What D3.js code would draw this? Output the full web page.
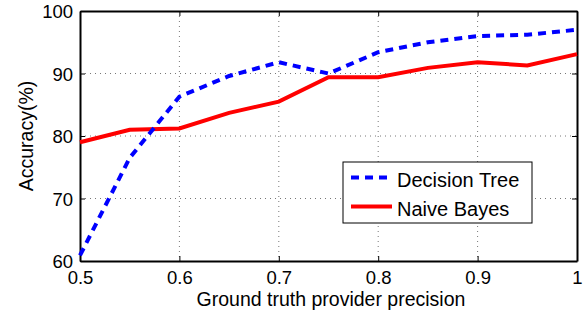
<!DOCTYPE html>
<html>
<head>
<meta charset="utf-8">
<script src="https://cdn.jsdelivr.net/npm/d3@7"></script>
<style>
  body { margin: 0; background: #fff; }
  svg { font-family: "Liberation Sans", Arial, sans-serif; }
</style>
</head>
<body>
<div id="app"></div>
<script>
// data
const precision = [0.5, 0.55, 0.6, 0.65, 0.7, 0.75, 0.8, 0.85, 0.9, 0.95, 1.0];
const decisionTree = [60.9, 76.5, 86.3, 89.6, 91.8, 90.0, 93.4, 95.0, 96.0, 96.2, 97.0];
const naiveBayes = [79.0, 81.0, 81.2, 83.7, 85.5, 89.4, 89.4, 90.9, 91.8, 91.3, 93.1];
const xTicks = [0.5, 0.6, 0.7, 0.8, 0.9, 1];
const yTicks = [60, 70, 80, 90, 100];

const width = 584,
    height = 314;
const margin = {top: 11, right: 7, bottom: 53, left: 80};
const plotW = width - margin.left - margin.right,
    plotH = height - margin.top - margin.bottom;

const x = d3.scaleLinear().domain([0.5, 1]).range([0, plotW]);
const y = d3.scaleLinear().domain([60, 100]).range([plotH, 0]);

const svg = d3.select("#app").append("svg")
    .attr("width", width)
    .attr("height", height);

const g = svg.append("g")
    .attr("transform", "translate(" + margin.left + "," + margin.top + ")");

// dotted grid
g.append("g").selectAll("line")
    .data(xTicks.slice(1, -1))
    .join("line")
    .attr("x1", d => x(d)).attr("x2", d => x(d))
    .attr("y1", 0).attr("y2", plotH)
    .attr("stroke", "#777").attr("stroke-width", 1)
    .attr("stroke-dasharray", "1,4");

g.append("g").selectAll("line")
    .data(yTicks.slice(1, -1))
    .join("line")
    .attr("x1", 0).attr("x2", plotW)
    .attr("y1", d => y(d)).attr("y2", d => y(d))
    .attr("stroke", "#777").attr("stroke-width", 1)
    .attr("stroke-dasharray", "1,4");

// axes, ticks pointing inward (matlab style)
const fmtX = d => d === 1 ? "1" : d3.format(".1f")(d);

const xAxis = g.append("g")
    .attr("transform", "translate(0," + plotH + ")")
    .call(d3.axisBottom(x).tickValues(xTicks).tickFormat(fmtX).tickSizeInner(-5).tickSizeOuter(0).tickPadding(10));
const xTop = g.append("g")
    .call(d3.axisTop(x).tickValues(xTicks).tickFormat("").tickSizeInner(-5).tickSizeOuter(0));
const yAxis = g.append("g")
    .call(d3.axisLeft(y).tickValues(yTicks).tickSizeInner(-5).tickSizeOuter(0).tickPadding(7));
const yRight = g.append("g")
    .attr("transform", "translate(" + plotW + ",0)")
    .call(d3.axisRight(y).tickValues(yTicks).tickFormat("").tickSizeInner(-5).tickSizeOuter(0));

[xAxis, xTop, yAxis, yRight].forEach(a => {
    a.select(".domain").attr("stroke", "#000").attr("stroke-width", 2);
    a.selectAll(".tick line").attr("stroke", "#000").attr("stroke-width", 1);
    a.selectAll("text").attr("fill", "#000").style("font-size", "18.5px")
        .style("font-family", "Liberation Sans, Arial, sans-serif");
});
yAxis.selectAll("text").attr("dy", "0.36em");

const line = d3.line()
    .x((d, i) => x(precision[i]))
    .y(d => y(d));

g.append("path")
    .datum(naiveBayes)
    .attr("fill", "none")
    .attr("stroke", "#ff0000")
    .attr("stroke-width", 4)
    .attr("d", line);

g.append("path")
    .datum(decisionTree)
    .attr("fill", "none")
    .attr("stroke", "#0000ff")
    .attr("stroke-width", 4)
    .attr("stroke-dasharray", "8,6")
    .attr("d", line);

// legend
const legend = svg.append("g").attr("transform", "translate(343,162)");
legend.append("rect")
    .attr("width", 189).attr("height", 61)
    .attr("fill", "#fff").attr("stroke", "#000").attr("stroke-width", 1);

const legendItems = [
    {name: "Decision Tree", color: "#0000ff", dash: "8,6"},
    {name: "Naive Bayes", color: "#ff0000", dash: null}
];
legendItems.forEach((item, i) => {
    const ly = 15.5 + i * 29;
    legend.append("line")
        .attr("x1", 8).attr("x2", 49)
        .attr("y1", ly).attr("y2", ly)
        .attr("stroke", item.color).attr("stroke-width", 4)
        .attr("stroke-dasharray", item.dash);
    legend.append("text")
        .attr("x", 54).attr("y", ly + 9)
        .style("font-size", "20px")
        .text(item.name);
});

// axis labels
svg.append("text")
    .attr("x", 331)
    .attr("y", 306)
    .attr("text-anchor", "middle")
    .style("font-size", "19.5px")
    .text("Ground truth provider precision");

svg.append("text")
    .attr("transform", "translate(33," + (margin.top + plotH / 2) + ") rotate(-90)")
    .attr("text-anchor", "middle")
    .style("font-size", "19.5px")
    .text("Accuracy(%)");
</script>
</body>
</html>
